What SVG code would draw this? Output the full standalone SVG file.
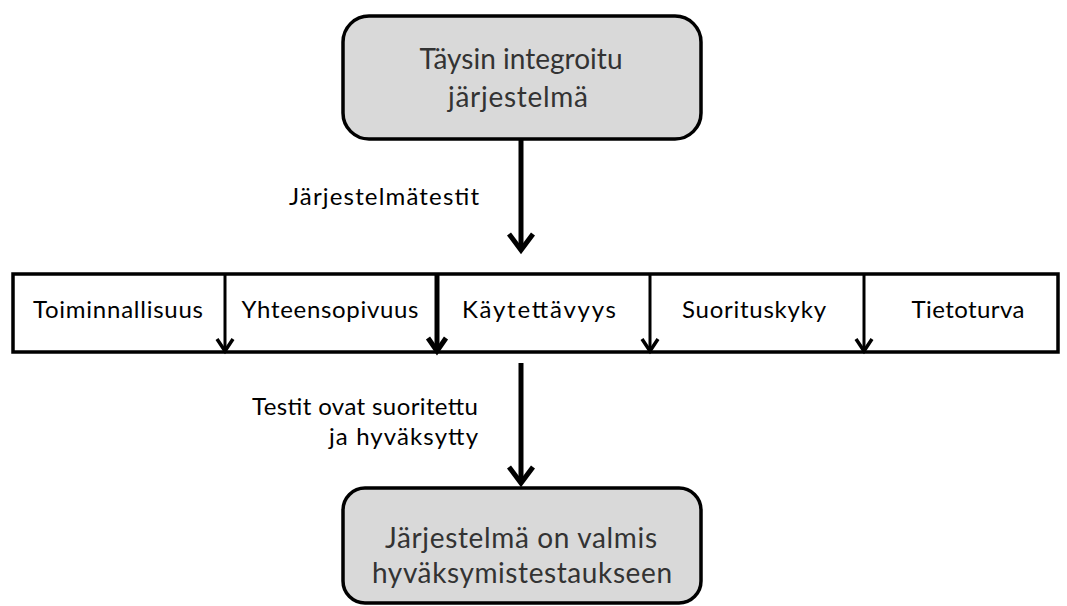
<svg xmlns="http://www.w3.org/2000/svg" width="1067" height="606" viewBox="0 0 1067 606">
<defs>
<style>
.box{fill:#d9d9d9;stroke:#000;stroke-width:3.5}
.bar{fill:#fff;stroke:#000;stroke-width:3.5}
.big{font-family:Lato,"Open Sans","Liberation Sans",sans-serif;font-size:28px;fill:#333;text-anchor:middle}
.lab{font-family:Lato,"Open Sans","Liberation Sans",sans-serif;font-size:24px;fill:#000;text-anchor:end}
.cell{font-family:Lato,"Open Sans","Liberation Sans",sans-serif;font-size:24px;fill:#000;text-anchor:middle}
.line{stroke:#000;fill:none;stroke-linecap:butt}
.head{stroke:#000;fill:none;stroke-linejoin:miter;stroke-linecap:butt}
</style>
</defs>
<rect width="1067" height="606" fill="#fff"/>
<g id="node-top">
<rect class="box" x="343" y="16" width="358" height="123" rx="26"/>
<text class="big" x="521" y="69" textLength="203" lengthAdjust="spacing">Täysin integroitu</text>
<text class="big" x="518" y="107" textLength="140" lengthAdjust="spacing">järjestelmä</text>
</g>
<g id="node-bar">
<rect class="bar" x="13" y="274" width="1045" height="78"/>
<text class="cell" x="118" y="318" textLength="170" lengthAdjust="spacing">Toiminnallisuus</text>
<text class="cell" x="330" y="318" textLength="177" lengthAdjust="spacing">Yhteensopivuus</text>
<text class="cell" x="539" y="318" textLength="154" lengthAdjust="spacing">Käytettävyys</text>
<text class="cell" x="754" y="318" textLength="144" lengthAdjust="spacing">Suorituskyky</text>
<text class="cell" x="968" y="318" textLength="113" lengthAdjust="spacing">Tietoturva</text>
</g>
<g id="node-bottom">
<rect class="box" x="343" y="488" width="358" height="115" rx="22"/>
<text class="big" x="521" y="548" textLength="272" lengthAdjust="spacing">Järjestelmä on valmis</text>
<text class="big" x="522" y="583" textLength="300" lengthAdjust="spacing">hyväksymistestaukseen</text>
</g>
<g id="connectors">
<line class="line" x1="521" y1="139" x2="521" y2="248" stroke-width="5"/>
<polyline class="head" points="509,234 521,250 533,234" stroke-width="5"/>
<line class="line" x1="521" y1="363" x2="521" y2="481" stroke-width="5"/>
<polyline class="head" points="509,467 521,483 533,467" stroke-width="5"/>
<line class="line" x1="225" y1="274" x2="225" y2="350" stroke-width="3"/>
<polyline class="head" points="217,339 225,351 233,339" stroke-width="3.5"/>
<line class="line" x1="437" y1="274" x2="437" y2="350" stroke-width="5"/>
<polyline class="head" points="428,338 437,351 446,338" stroke-width="5"/>
<line class="line" x1="650" y1="274" x2="650" y2="350" stroke-width="3"/>
<polyline class="head" points="642,339 650,351 658,339" stroke-width="3.5"/>
<line class="line" x1="864" y1="274" x2="864" y2="350" stroke-width="3"/>
<polyline class="head" points="856,339 864,351 872,339" stroke-width="3.5"/>
<text class="lab" x="479" y="205" textLength="190" lengthAdjust="spacing">Järjestelmätestit</text>
<text class="lab" x="478" y="415" textLength="226" lengthAdjust="spacing">Testit ovat suoritettu</text>
<text class="lab" x="478" y="445" textLength="149" lengthAdjust="spacing">ja hyväksytty</text>
</g>
</svg>
